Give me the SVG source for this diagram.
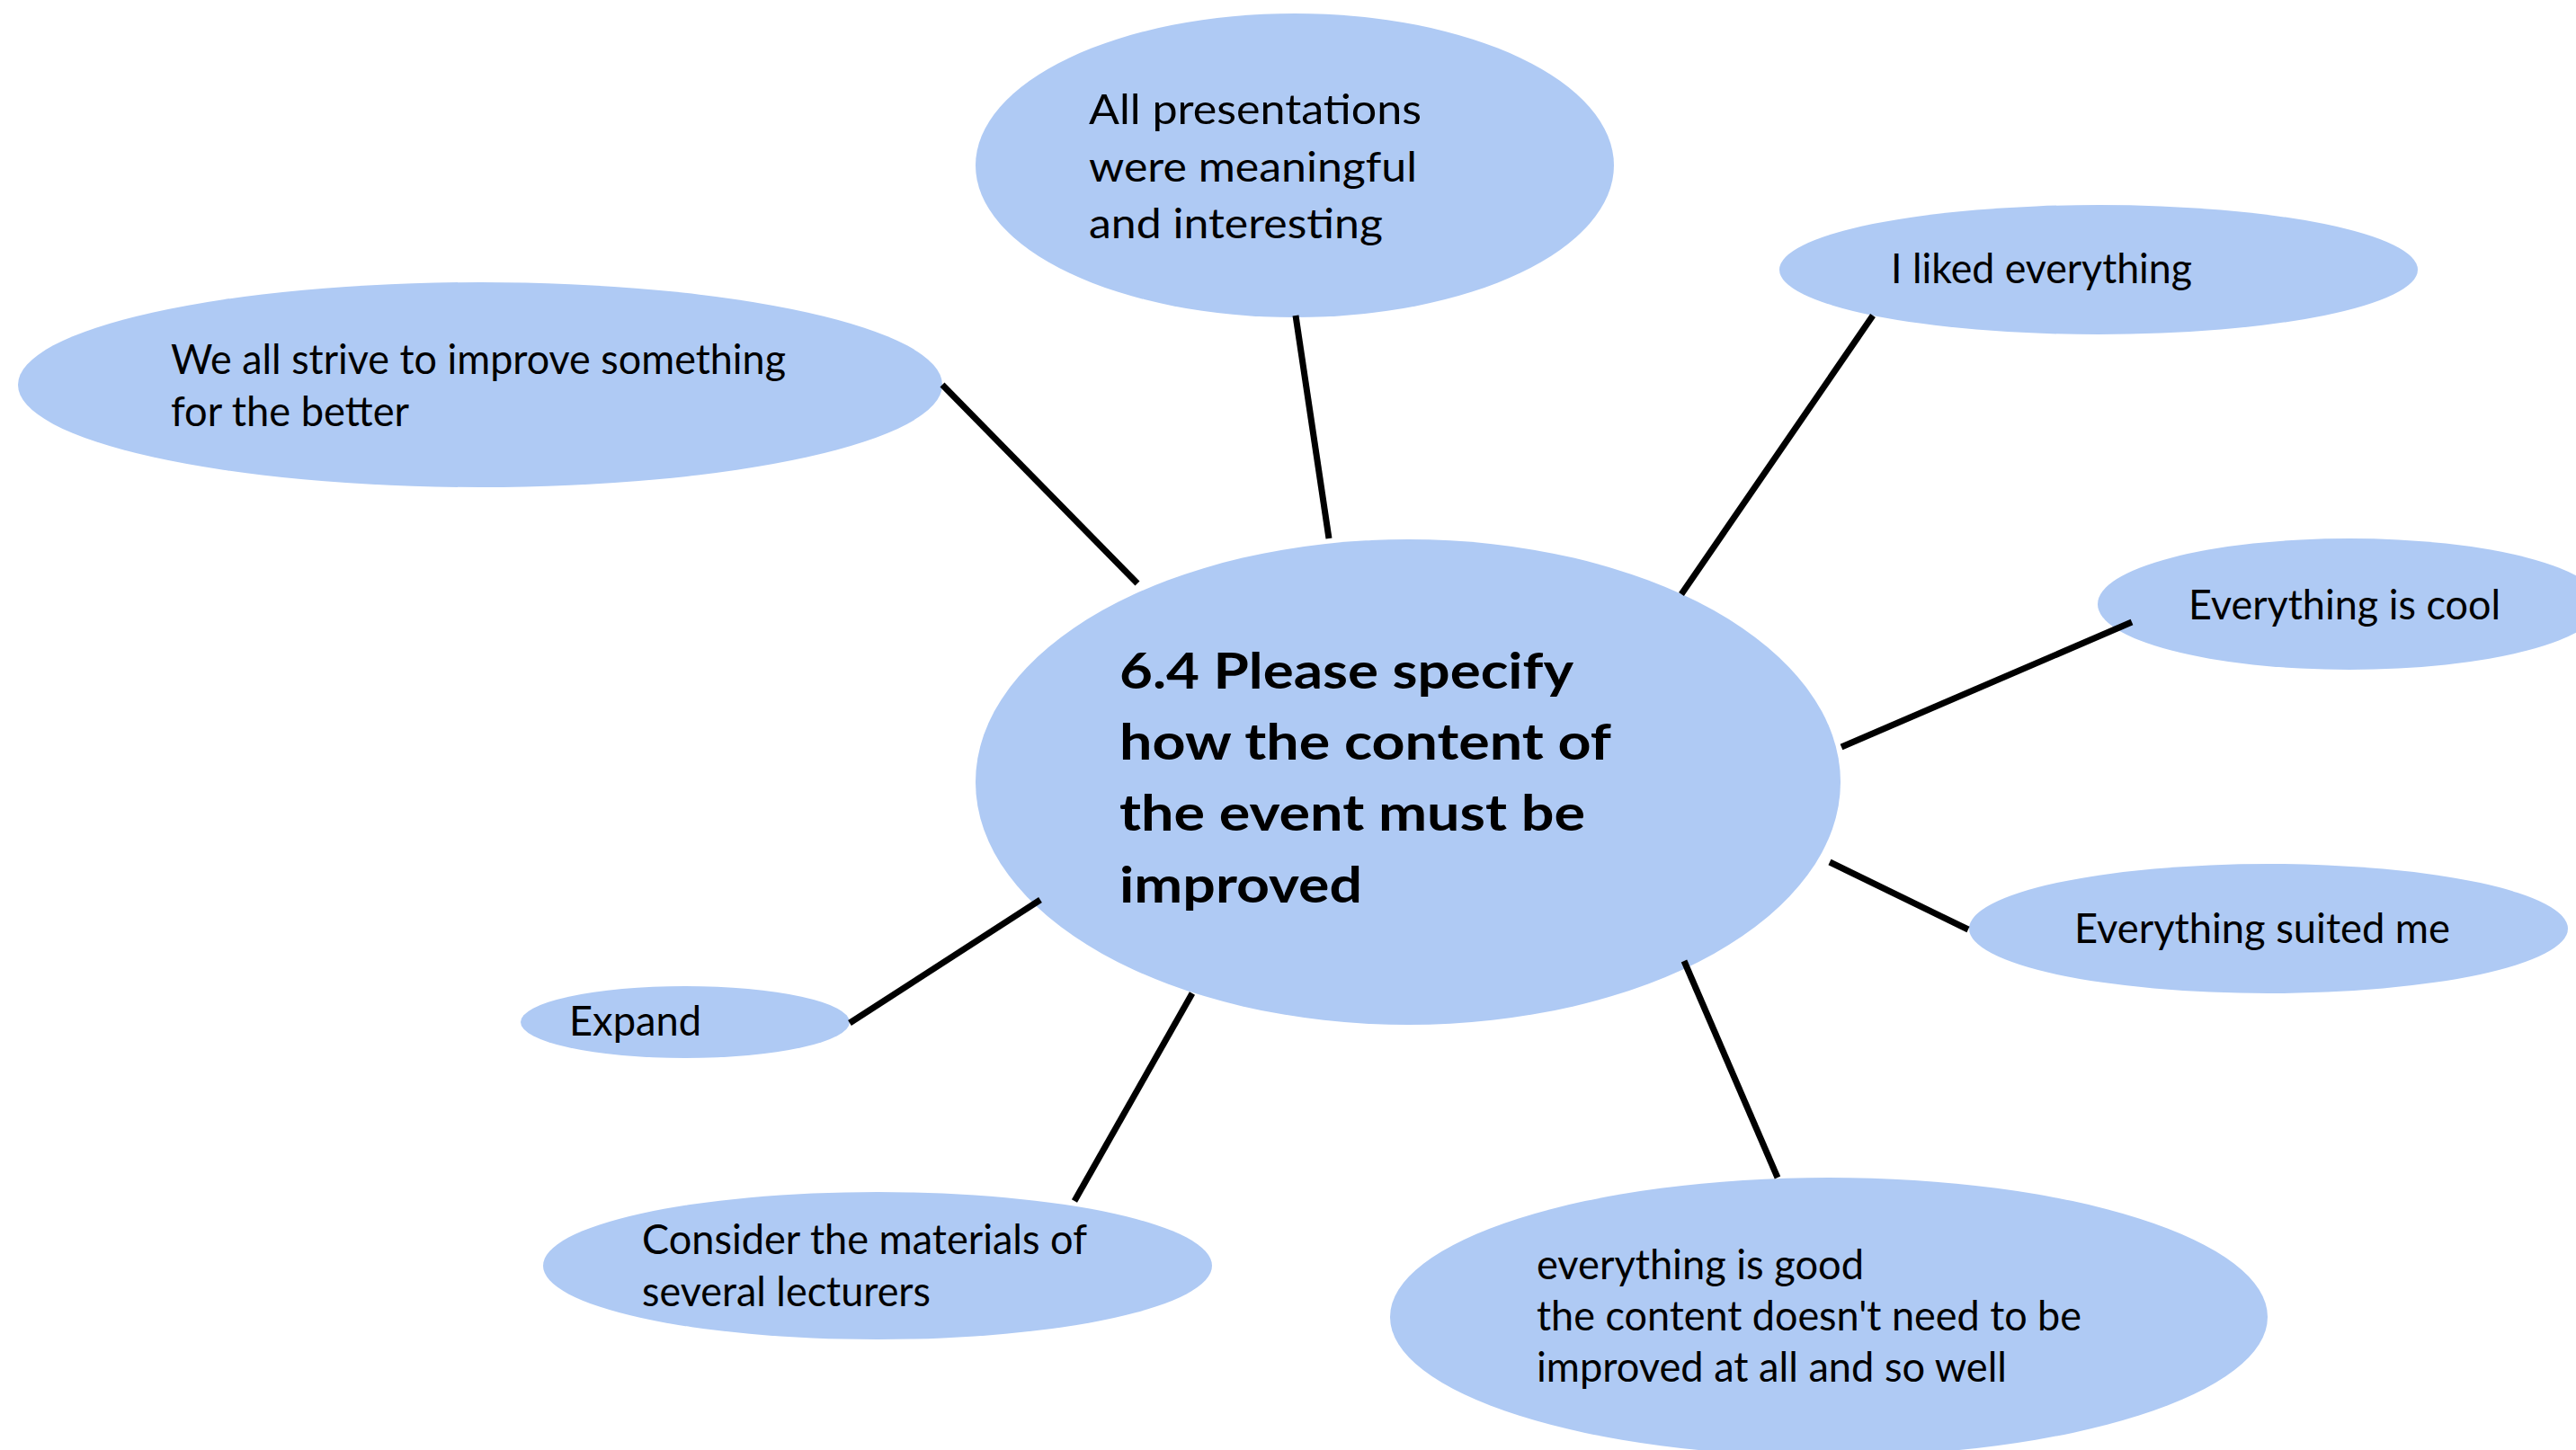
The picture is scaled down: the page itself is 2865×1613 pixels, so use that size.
<svg xmlns="http://www.w3.org/2000/svg" width="2865" height="1613" viewBox="0 0 2865 1613">
<style>
.bg{fill:#ffffff}
.node ellipse{fill:#AFCAF4;stroke:none}
.lbl{font-family:Lato,"Open Sans","Liberation Sans",sans-serif;font-size:46px;fill:#000000}
.title{font-family:Lato,"Open Sans","Liberation Sans",sans-serif;font-size:56px;font-weight:bold;fill:#000000}
.conn line{stroke:#000000;stroke-width:7;stroke-linecap:butt}
</style>
<rect class="bg" x="0" y="0" width="2865" height="1613"/>
<g id="n-center" class="node">
<ellipse cx="1566" cy="870" rx="481" ry="270"/>
<text class="title"><tspan x="1245" y="766" textLength="505" lengthAdjust="spacingAndGlyphs">6.4 Please specify</tspan><tspan x="1245" y="845" textLength="547" lengthAdjust="spacingAndGlyphs">how the content of</tspan><tspan x="1245" y="924" textLength="518" lengthAdjust="spacingAndGlyphs">the event must be</tspan><tspan x="1245" y="1004" textLength="270" lengthAdjust="spacingAndGlyphs">improved</tspan></text>
</g>
<g id="n-presentations" class="node">
<ellipse cx="1440" cy="184" rx="355" ry="169"/>
<text class="lbl"><tspan x="1211" y="138" textLength="370" lengthAdjust="spacingAndGlyphs">All presentations</tspan><tspan x="1211" y="202" textLength="365" lengthAdjust="spacingAndGlyphs">were meaningful</tspan><tspan x="1211" y="265" textLength="327" lengthAdjust="spacingAndGlyphs">and interesting</tspan></text>
</g>
<g id="n-liked" class="node">
<ellipse cx="2334" cy="300" rx="355" ry="72"/>
<text class="lbl" x="2103" y="315" textLength="335" lengthAdjust="spacingAndGlyphs">I liked everything</text>
</g>
<g id="n-cool" class="node">
<ellipse cx="2613" cy="672" rx="280" ry="73"/>
<text class="lbl" x="2434" y="689" textLength="347" lengthAdjust="spacingAndGlyphs">Everything is cool</text>
</g>
<g id="n-suited" class="node">
<ellipse cx="2523" cy="1033" rx="333" ry="72"/>
<text class="lbl" x="2307" y="1049" textLength="418" lengthAdjust="spacingAndGlyphs">Everything suited me</text>
</g>
<g id="n-strive" class="node">
<ellipse cx="534" cy="428" rx="514" ry="114"/>
<text class="lbl"><tspan x="190" y="416" textLength="684" lengthAdjust="spacingAndGlyphs">We all strive to improve something</tspan><tspan x="190" y="474" textLength="265" lengthAdjust="spacingAndGlyphs">for the better</tspan></text>
</g>
<g id="n-expand" class="node">
<ellipse cx="762" cy="1137" rx="183" ry="40"/>
<text class="lbl" x="633" y="1152" textLength="147" lengthAdjust="spacingAndGlyphs">Expand</text>
</g>
<g id="n-consider" class="node">
<ellipse cx="976" cy="1408" rx="372" ry="82"/>
<text class="lbl"><tspan x="714" y="1395" textLength="495" lengthAdjust="spacingAndGlyphs">Consider the materials of</tspan><tspan x="714" y="1453" textLength="321" lengthAdjust="spacingAndGlyphs">several lecturers</tspan></text>
</g>
<g id="n-good" class="node">
<ellipse cx="2034" cy="1465" rx="488" ry="155"/>
<text class="lbl"><tspan x="1709" y="1423" textLength="364" lengthAdjust="spacingAndGlyphs">everything is good</tspan><tspan x="1709" y="1480" textLength="606" lengthAdjust="spacingAndGlyphs">the content doesn't need to be</tspan><tspan x="1709" y="1537" textLength="523" lengthAdjust="spacingAndGlyphs">improved at all and so well</tspan></text>
</g>
<g id="connectors" class="conn">
<line x1="1441" y1="351" x2="1478" y2="599"/>
<line x1="1048" y1="428" x2="1265" y2="649"/>
<line x1="2083" y1="351" x2="1870" y2="661"/>
<line x1="2371" y1="692" x2="2048" y2="831"/>
<line x1="2035" y1="959" x2="2189" y2="1034"/>
<line x1="1873" y1="1069" x2="1977" y2="1310"/>
<line x1="1326" y1="1105" x2="1195" y2="1336"/>
<line x1="1157" y1="1001" x2="945" y2="1138"/>
</g>
</svg>
